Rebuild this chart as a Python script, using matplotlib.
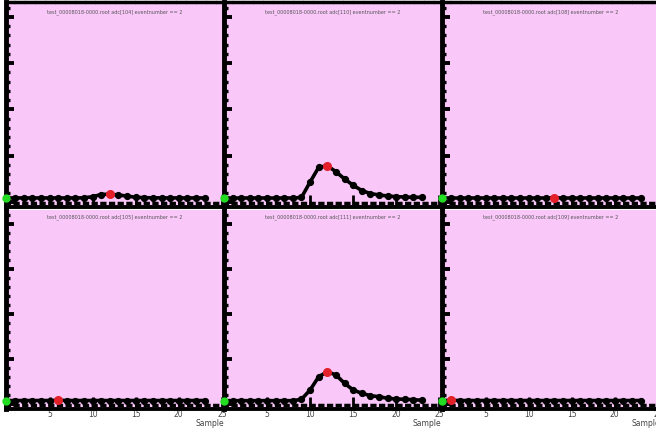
import numpy as np
import matplotlib.pyplot as plt
from matplotlib.ticker import MultipleLocator

# waveform samples per channel, event 2
samples = np.arange(24)

adc_104 = [86, 85, 86, 85, 86, 85, 86, 85, 86, 88, 113, 160, 168, 148, 127, 100,
           92, 88, 87, 86, 86, 85, 86, 85]
adc_110 = [84, 85, 84, 85, 84, 85, 84, 85, 84, 97, 430, 748, 780, 653, 495, 360,
           245, 180, 150, 128, 113, 106, 100, 100]
adc_108 = [84, 85, 84, 85, 84, 85, 84, 85, 84, 85, 84, 85, 84, 90, 84, 85,
           84, 85, 84, 85, 84, 85, 84, 85]
adc_105 = [78, 79, 78, 79, 78, 79, 84, 79, 78, 79, 78, 79, 78, 79, 78, 79,
           78, 79, 78, 79, 78, 79, 78, 79]
adc_111 = [75, 76, 75, 76, 75, 76, 75, 76, 75, 106, 313, 609, 721, 647, 462, 313,
           240, 186, 164, 128, 113, 106, 97, 84]
adc_109 = [78, 84, 78, 79, 78, 79, 78, 79, 78, 79, 78, 79, 78, 79, 78, 79,
           78, 79, 78, 79, 78, 79, 78, 79]

channels = ['104', '110', '108', '105', '111', '109']
waveforms = [adc_104, adc_110, adc_108, adc_105, adc_111, adc_109]
x_ticks = [5, 10, 15, 20, 25]

pad_color = '#f9c8f9'
W, H = 656, 428
fig = plt.figure(figsize=(W / 100, H / 100), dpi=100)
fig.patch.set_facecolor('white')

col_left = [6, 223.5, 442]
col_w = 218
rows = [(2, 207), (210, 409)]  # top / bottom edge in pixels

for k, (chan, wave) in enumerate(zip(channels, waveforms)):
    r, c = divmod(k, 3)
    top, bot = rows[r]
    ax = fig.add_axes([col_left[c] / W, 1 - bot / H, col_w / W, (bot - top) / H])
    ax.set_facecolor(pad_color)
    ax.set_xlim(-0.05, 25.25)
    ax.set_ylim(-110, 4320)

    wave = np.array(wave)
    ax.plot(samples, wave, '-o', color='black', lw=2.6, ms=4.2, zorder=3)
    peak = int(np.argmax(wave))
    ax.plot(samples[peak], wave[peak], 'o', color='#e3202a', ms=5.5, zorder=4)
    ax.plot(samples[0], wave[0], 'o', color='#22dd22', ms=5, zorder=5, clip_on=False)

    # thick tick band just above the x axis
    ax.plot([0, 1], [0.021, 0.021], transform=ax.transAxes, color='black',
            lw=2.5, ls=(0.5, (1.8, 0.7)), zorder=2)

    ax.spines['right'].set_visible(False)
    if r == 0:
        ax.spines['top'].set_linewidth(2.5)
        ax.spines['top'].set_linestyle((0, (2.0, 0.9)))
    else:
        ax.spines['top'].set_visible(False)
    ax.spines['left'].set_linewidth(3.5)
    ax.spines['bottom'].set_linewidth(2.8)

    ax.yaxis.set_major_locator(MultipleLocator(1000))
    ax.yaxis.set_minor_locator(MultipleLocator(200))
    ax.tick_params(axis='y', which='major', direction='in', length=6, width=2.8,
                   labelleft=False)
    ax.tick_params(axis='y', which='minor', direction='in', length=3, width=2.4)

    ax.set_xticks(x_ticks)
    ax.tick_params(axis='x', which='major', direction='in', length=9, width=2,
                   pad=1, labelsize=5.5, labelcolor='#444444')
    if r == 0:
        ax.tick_params(axis='x', labelbottom=False)
    else:
        ax.set_xlabel('Sample', loc='right', fontsize=5.5, color='#444444', labelpad=0)

    title_y = 1 - 10 / (bot - top) if r == 0 else 1 - 7 / (bot - top)
    ax.text(0.5, title_y, f'test_00008018-0000.root adc[{chan}] eventnumber == 2',
            transform=ax.transAxes, ha='center', va='center', fontsize=3.5,
            color='#555555')

fig.savefig('out.png', dpi=100)
